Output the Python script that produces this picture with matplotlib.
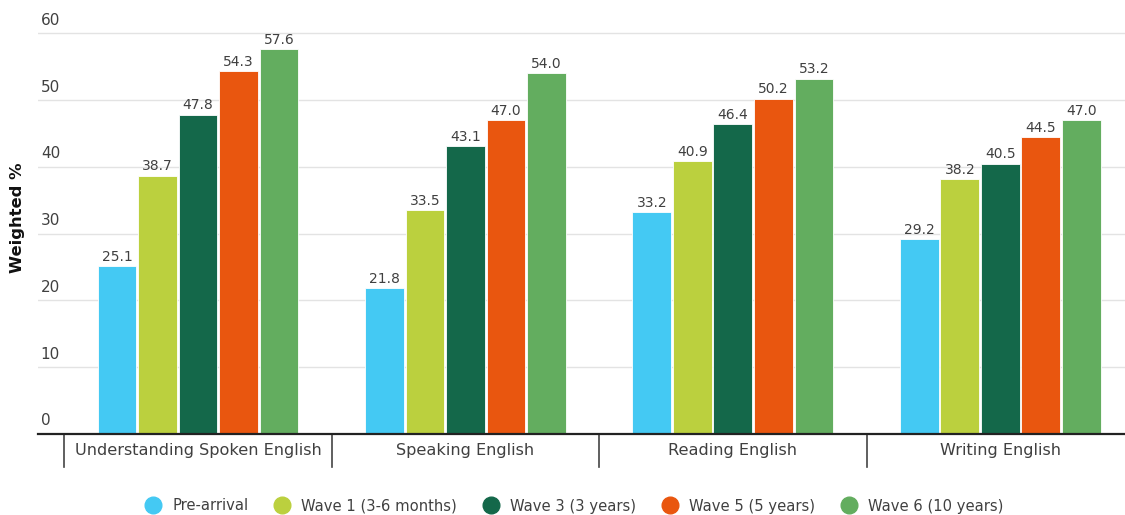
import matplotlib
matplotlib.use("Agg")
import matplotlib.pyplot as plt
from matplotlib.lines import Line2D
import numpy as np

plt.rcParams['font.family'] = ['DejaVu Sans']

categories = ["Understanding Spoken English", "Speaking English", "Reading English", "Writing English"]
series_names = ["Pre-arrival", "Wave 1 (3-6 months)", "Wave 3 (3 years)", "Wave 5 (5 years)", "Wave 6 (10 years)"]
pre_arrival = [25.1, 21.8, 33.2, 29.2]
wave1 = [38.7, 33.5, 40.9, 38.2]
wave3 = [47.8, 43.1, 46.4, 40.5]
wave5 = [54.3, 47.0, 50.2, 44.5]
wave6 = [57.6, 54.0, 53.2, 47.0]
y_ticks = [0, 10, 20, 30, 40, 50, 60]

colors = ["#44C9F3", "#BBD03E", "#14684A", "#E9560F", "#63AD5F"]
text_color = "#404040"

W, H = 1125, 515
fig = plt.figure(figsize=(W / 100, H / 100), dpi=100)
ax_h_px = 434 - 20
ax = fig.add_axes([38 / W, 1 - 434 / H, 1 - 38 / W, ax_h_px / H])
y_top = 62
px_per_unit = ax_h_px / y_top

x = np.arange(len(categories))
step = 0.1515
width = 0.145
all_series = [pre_arrival, wave1, wave3, wave5, wave6]
for i, (vals, name, c) in enumerate(zip(all_series, series_names, colors)):
    pos = x + (i - 2) * step
    bars = ax.bar(pos, vals, width, color=c, label=name, zorder=3,
                  edgecolor="white", linewidth=0.6)
    for b, v in zip(bars, vals):
        ax.text(b.get_x() + b.get_width() / 2, v + 0.35, f"{v:.1f}",
                ha="center", va="bottom", fontsize=10, color=text_color, zorder=4)

ax.set_xlim(-0.598, 3.466)
ax.set_ylim(0, y_top)

# horizontal gridlines with labels sitting above them
for t in y_ticks:
    if t > 0:
        ax.axhline(t, color="#e3e3e3", linewidth=1, zorder=1)
    ax.annotate(str(t), xy=(0, t), xycoords=("axes fraction", "data"),
                xytext=(2, 4), textcoords="offset points",
                ha="left", va="bottom", fontsize=11, color=text_color)

ax.set_xticks([])
ax.set_yticks([])
for s in ["top", "right", "left"]:
    ax.spines[s].set_visible(False)
ax.spines["bottom"].set_color("#222222")
ax.spines["bottom"].set_linewidth(1.6)
ax.spines["bottom"].set_zorder(5)

# category separators and labels below the axis
for sep in np.arange(-0.5, len(categories), 1.0):
    ax.plot([sep, sep], [0, -33 / px_per_unit], color="#444444", linewidth=1.2,
            clip_on=False, zorder=5)
for xi, cat in zip(x, categories):
    ax.text(xi, -17 / px_per_unit, cat, ha="center", va="center",
            fontsize=11.6, color=text_color)

fig.text(18 / W, 1 - 218 / H, "Weighted %", rotation=90, ha="center", va="center",
         fontsize=11.8, fontweight="bold", color="#111111")

handles = [Line2D([0], [0], marker="o", linestyle="none", markersize=12,
                  markerfacecolor=c, markeredgecolor=c) for c in colors]
fig.legend(handles, series_names, loc="center", bbox_to_anchor=(571 / W, 1 - 506 / H),
           ncol=5, frameon=False, fontsize=10.6, handletextpad=0.3, columnspacing=1.3,
           labelcolor=text_color)

fig.savefig("out.png", dpi=100)
